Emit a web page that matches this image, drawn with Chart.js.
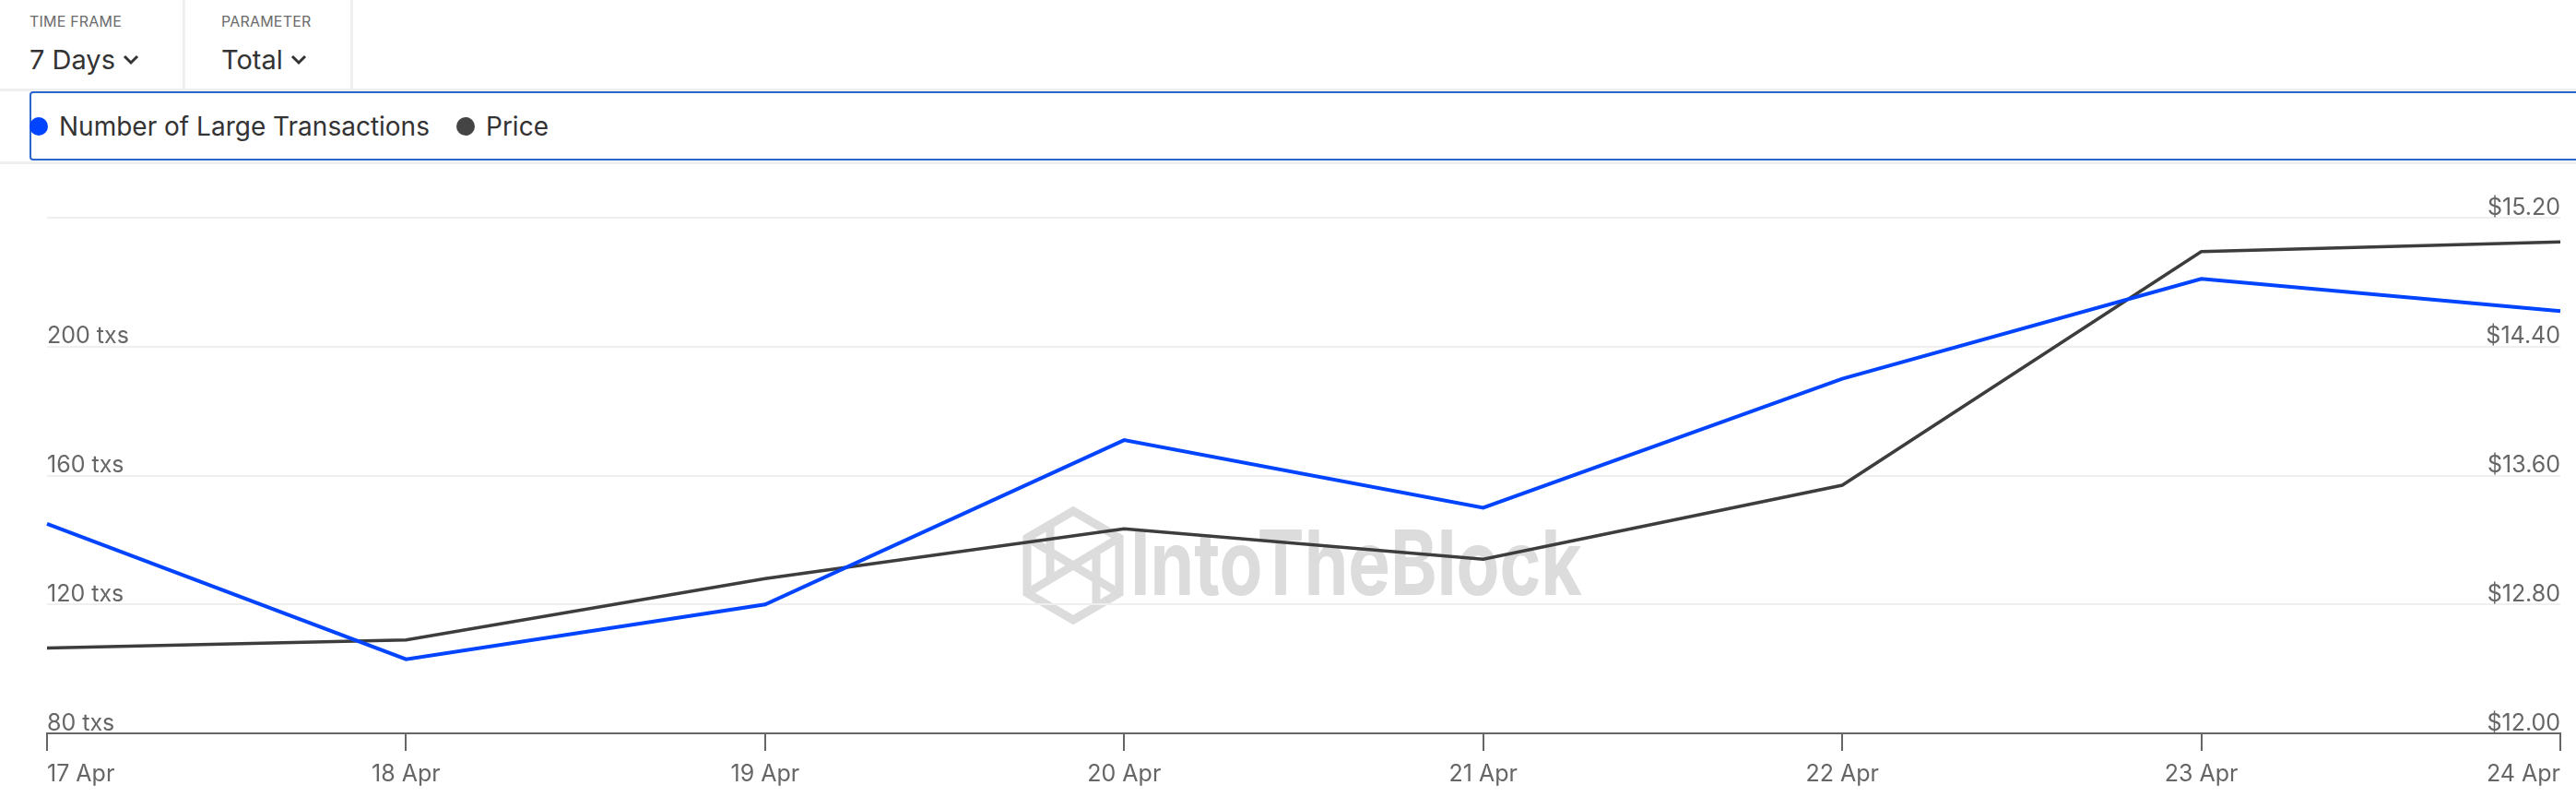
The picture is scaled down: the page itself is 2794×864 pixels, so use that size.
<!DOCTYPE html>
<html>
<head>
<meta charset="utf-8">
<script src="https://cdn.jsdelivr.net/npm/chart.js@4.4.1/dist/chart.umd.min.js"></script>
<style>
  body { margin: 0; width: 2794px; height: 864px; position: relative; overflow: hidden; background: #fff; font-family: Inter, sans-serif; }
  .abs { position: absolute; }
  .label-small { font-size: 16px; color: #6b6b6b; letter-spacing: 0.2px; }
  .select { font-size: 29px; color: #333; display: flex; align-items: center; }
  .select svg { margin-left: 8px; }
  .vline { width: 3px; background: #efefef; top: 0; height: 97px; }
  .hline { left: 0; width: 2794px; height: 3px; background: #efefef; }
  #legendBox { left: 32px; top: 99px; width: 2790px; height: 71px; border: 2px solid #2a66cc; border-radius: 4px; }
  .legend-item { position: absolute; top: 0; height: 71px; display: flex; align-items: center; font-size: 28px; color: #333; }
  .dot { width: 20px; height: 20px; border-radius: 50%; margin-right: 12px; }
  #chartWrap { left: 0; top: 176px; width: 2794px; height: 688px; }
</style>
</head>
<body>

<!-- watermark sits behind the chart canvas -->
<svg class="abs" style="left:0;top:0" width="2794" height="864">
  <g fill="none" stroke="#dcdcdc" stroke-width="9">
    <polygon points="1164,554 1214,583 1214,643 1164,672 1114,643 1114,583"/>
    <line x1="1139" y1="568" x2="1139" y2="628"/>
    <line x1="1114" y1="583" x2="1214" y2="643"/>
    <line x1="1114" y1="643" x2="1214" y2="583"/>
    <line x1="1189" y1="598" x2="1189" y2="658"/>
  </g>
  <text x="1226" y="645" font-family="Inter" font-weight="700" font-size="98" fill="#dcdcdc"
        textLength="490" lengthAdjust="spacingAndGlyphs">IntoTheBlock</text>
</svg>

<div class="abs label-small" style="left:32px;top:13px">TIME FRAME</div>
<div class="abs select" style="left:32px;top:47px">7 Days
  <svg width="18" height="12"><polyline points="2,2 9,9 16,2" fill="none" stroke="#333" stroke-width="3"/></svg>
</div>
<div class="abs vline" style="left:198px"></div>
<div class="abs label-small" style="left:240px;top:13px">PARAMETER</div>
<div class="abs select" style="left:240px;top:47px">Total
  <svg width="18" height="12"><polyline points="2,2 9,9 16,2" fill="none" stroke="#333" stroke-width="3"/></svg>
</div>
<div class="abs vline" style="left:380px"></div>
<div class="abs hline" style="top:96px"></div>

<div class="abs" id="legendBox"></div>
<div class="abs hline" style="top:175px"></div>

<div class="abs" id="chartWrap"><canvas id="chart"></canvas></div>

<script>
// Categories
const dates = ['17 Apr', '18 Apr', '19 Apr', '20 Apr', '21 Apr', '22 Apr', '23 Apr', '24 Apr'];

// Series values
const largeTxs = [145, 103, 120, 171, 150, 190, 221, 211];
const prices = [12.53, 12.58, 12.96, 13.27, 13.08, 13.54, 14.99, 15.05];

// Tick values and labels
const txsTicks = [80, 120, 160, 200, 240];
const txsTickLabels = ['80 txs', '120 txs', '160 txs', '200 txs', ''];
const priceTicks = [12.0, 12.8, 13.6, 14.4, 15.2];
const priceTickLabels = ['$12.00', '$12.80', '$13.60', '$14.40', '$15.20'];

// Series names / colours
const seriesNames = ['Number of Large Transactions', 'Price'];
const seriesColors = ['#0044ff', '#3d3d3d'];
const legendOffsets = [0, 463];

// Build legend
function buildLegend() {
  const box = document.getElementById('legendBox');
  seriesNames.forEach((name, i) => {
    const item = document.createElement('div');
    item.className = 'legend-item';
    item.style.left = (legendOffsets[i] - 2) + 'px';
    const dot = document.createElement('span');
    dot.className = 'dot';
    dot.style.background = i === 0 ? seriesColors[0] : '#444';
    item.appendChild(dot);
    item.appendChild(document.createTextNode(name));
    box.appendChild(item);
  });
}

const tickFont = { family: 'Inter', size: 25 };
const tickColor = '#666';

function initChart() {
  const ctx = document.getElementById('chart');
  new Chart(ctx, {
    type: 'line',
    data: {
      labels: dates,
      datasets: [{
        label: seriesNames[0],
        data: largeTxs,
        yAxisID: 'yTxs',
        borderColor: seriesColors[0],
        borderWidth: 4,
        pointRadius: 0,
        tension: 0
      }, {
        label: seriesNames[1],
        data: prices,
        yAxisID: 'yPrice',
        borderColor: seriesColors[1],
        borderWidth: 3.5,
        pointRadius: 0,
        tension: 0
      }]
    },
    options: {
      responsive: true,
      maintainAspectRatio: false,
      animation: false,
      layout: { padding: { left: 51, right: 17, top: 60, bottom: 0 } },
      plugins: {
        legend: { display: false },
        tooltip: { enabled: false }
      },
      scales: {
        x: {
          offset: false,
          border: { display: true, color: '#666', width: 2 },
          grid: { drawOnChartArea: false, drawTicks: true, tickLength: 19, color: '#666', lineWidth: 2 },
          ticks: { align: 'inner', color: tickColor, font: tickFont, padding: 10, maxRotation: 0, autoSkip: false }
        },
        yTxs: {
          position: 'left',
          min: txsTicks[0],
          max: txsTicks[txsTicks.length - 1],
          afterBuildTicks: scale => { scale.ticks = txsTicks.map(v => ({ value: v })); },
          border: { display: false },
          grid: { drawTicks: false, color: '#efefef', lineWidth: 2 },
          ticks: {
            mirror: true,
            padding: 0,
            labelOffset: -11,
            color: tickColor,
            font: tickFont,
            callback: (value, index) => txsTickLabels[index]
          }
        },
        yPrice: {
          position: 'right',
          min: priceTicks[0],
          max: priceTicks[priceTicks.length - 1],
          afterBuildTicks: scale => { scale.ticks = priceTicks.map(v => ({ value: v })); },
          border: { display: false },
          grid: { display: false, drawTicks: false },
          ticks: {
            mirror: true,
            padding: 0,
            labelOffset: -11,
            color: tickColor,
            font: tickFont,
            callback: (value, index) => priceTickLabels[index]
          }
        }
      }
    }
  });
}

buildLegend();
initChart();
</script>
</body>
</html>
